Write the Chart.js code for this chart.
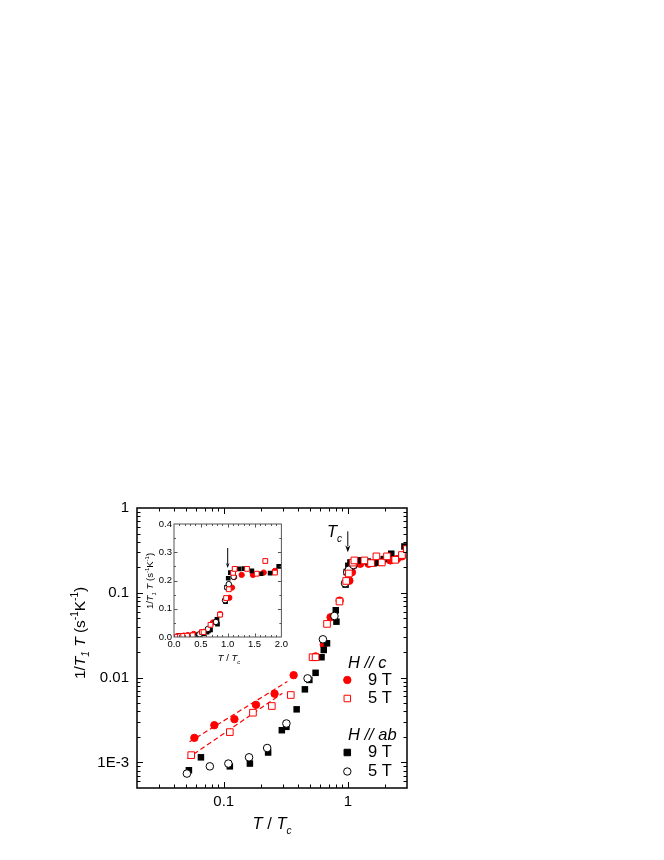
<!DOCTYPE html>
<html>
<head>
<meta charset="utf-8">
<script src="https://cdn.jsdelivr.net/npm/chart.js@4.4.1/dist/chart.umd.min.js"></script>
<style>
  html, body { margin: 0; padding: 0; background: #fff; }
  #wrap { position: relative; width: 664px; height: 860px; }
  #main { position: absolute; left: 0; top: 0; }
  #inset { position: absolute; left: 140px; top: 515px; }
</style>
</head>
<body>
<div id="wrap">
  <canvas id="main" width="664" height="860"></canvas>
  <canvas id="inset" width="150" height="155"></canvas>
</div>
<script>
// --- data (T/Tc, 1/T1T in s^-1 K^-1) ---
// H // c, 9 T (filled red circles)
const c9T_x = [0.058, 0.084, 0.122, 0.182, 0.257, 0.366, 0.55, 0.64, 0.726, 0.86, 1.03, 1.08, 1.12, 1.26, 1.47, 1.67, 1.88, 2.20, 2.49, 2.73];
const c9T_y = [0.00195, 0.00275, 0.00324, 0.00478, 0.00646, 0.0107, 0.0178, 0.0245, 0.0515, 0.081, 0.139, 0.175, 0.212, 0.220, 0.220, 0.228, 0.234, 0.241, 0.25, 0.269];
// H // c, 5 T (open red squares)
const c5T_x = [0.0547, 0.112, 0.172, 0.244, 0.347, 0.52, 0.55, 0.68, 0.857, 0.97, 1.02, 1.10, 1.13, 1.36, 1.54, 1.70, 1.88, 2.07, 2.41, 2.73, 2.99];
const c5T_y = [0.00122, 0.00228, 0.00386, 0.00463, 0.00624, 0.0174, 0.0174, 0.043, 0.079, 0.138, 0.169, 0.227, 0.241, 0.241, 0.224, 0.269, 0.228, 0.269, 0.245, 0.279, 0.328];
// H // ab, 9 T (filled black squares)
const ab9T_x = [0.0524, 0.0655, 0.112, 0.1625, 0.228, 0.294, 0.32, 0.387, 0.451, 0.49, 0.55, 0.614, 0.64, 0.68, 0.80, 0.81, 0.96, 0.98, 1.01, 1.05, 1.21, 1.30, 1.45, 1.62, 1.79, 1.95, 2.24, 2.86];
const ab9T_y = [0.00081, 0.00115, 0.0009, 0.00097, 0.00131, 0.0024, 0.00263, 0.00423, 0.00728, 0.0094, 0.0114, 0.0174, 0.0212, 0.0254, 0.0623, 0.0457, 0.125, 0.176, 0.208, 0.228, 0.241, 0.242, 0.234, 0.224, 0.226, 0.25, 0.289, 0.352];
// H // ab, 5 T (open black circles)
const ab5T_x = [0.0505, 0.0773, 0.109, 0.16, 0.224, 0.32, 0.474, 0.63, 0.78, 0.95, 0.99, 1.02, 1.11];
const ab5T_y = [0.00074, 0.0009, 0.00097, 0.00115, 0.00148, 0.00288, 0.0098, 0.0283, 0.0533, 0.13, 0.175, 0.187, 0.213];
// dashed power-law guides
const fit9T_x = [0.053, 0.326];
const fit9T_y = [0.00175, 0.0090];
const fit5T_x = [0.0508, 0.297];
const fit5T_y = [0.00111, 0.00653];

// tick labels
const xTickVals = [0.1, 1];
const xTickLabels = ['0.1', '1'];
const yTickVals = [0.001, 0.01, 0.1, 1];
const yTickLabels = ['1E-3', '0.01', '0.1', '1'];
const insetXTicks = [0, 0.5, 1, 1.5, 2];
const insetYTicks = [0, 0.1, 0.2, 0.3, 0.4];

const FONT = "'Liberation Sans', Arial, Helvetica, sans-serif";
const RED = '#ff0000';

function pts(xs, ys, maxX) {
    return xs.map((x, i) => ({ x: x, y: ys[i] })).filter(p => maxX === undefined || p.x <= maxX);
}

function fontFor(p, size) {
    const s = (p.sub || p.sup) ? Math.round(size * 0.62) : size;
    return (p.it ? 'italic ' : '') + s + 'px ' + FONT;
}

// text made of pieces (italic / sub / sup), y is the baseline
function drawRich(ctx, parts, x, y, size, align, rot) {
    ctx.save();
    ctx.translate(x, y);
    if (rot) ctx.rotate(rot);
    ctx.fillStyle = '#000';
    ctx.textBaseline = 'alphabetic';
    ctx.textAlign = 'left';
    let total = 0;
    parts.forEach(p => { ctx.font = fontFor(p, size); total += ctx.measureText(p.t).width; });
    let cx = align === 'center' ? -total / 2 : (align === 'right' ? -total : 0);
    parts.forEach(p => {
        ctx.font = fontFor(p, size);
        const dy = p.sub ? size * 0.28 : (p.sup ? -size * 0.42 : 0);
        ctx.fillText(p.t, cx, dy);
        cx += ctx.measureText(p.t).width;
    });
    ctx.restore();
}

function marker(ctx, style, x, y, r, fill, stroke) {
    ctx.save();
    ctx.fillStyle = fill;
    ctx.strokeStyle = stroke;
    ctx.lineWidth = 1;
    ctx.beginPath();
    if (style === 'circle') {
        ctx.arc(x, y, r, 0, Math.PI * 2);
    } else {
        const s = r * Math.SQRT1_2;
        ctx.rect(x - s, y - s, 2 * s, 2 * s);
    }
    ctx.fill();
    ctx.stroke();
    ctx.restore();
}

function arrowDown(ctx, x, y0, y1, headLen, headW) {
    ctx.save();
    ctx.strokeStyle = '#000';
    ctx.fillStyle = '#000';
    ctx.lineWidth = 1;
    ctx.beginPath();
    ctx.moveTo(x, y0);
    ctx.lineTo(x, y1 - headLen + 1);
    ctx.stroke();
    ctx.beginPath();
    ctx.moveTo(x, y1);
    ctx.lineTo(x - headW, y1 - headLen);
    ctx.lineTo(x, y1 - headLen * 0.7);
    ctx.lineTo(x + headW, y1 - headLen);
    ctx.closePath();
    ctx.fill();
    ctx.restore();
}

// inward tick marks on all four sides plus the box
function ticksAndFrame(chart, o) {
    const { ctx, chartArea: a, scales: { x, y } } = chart;
    ctx.save();
    ctx.strokeStyle = o.color;
    ctx.lineWidth = 1;
    ctx.beginPath();
    const xt = (v, len) => {
        const px = Math.round(x.getPixelForValue(v)) + 0.5;
        ctx.moveTo(px, a.bottom); ctx.lineTo(px, a.bottom - len);
        ctx.moveTo(px, a.top); ctx.lineTo(px, a.top + len);
    };
    const yt = (v, len) => {
        const py = Math.round(y.getPixelForValue(v)) + 0.5;
        ctx.moveTo(a.left, py); ctx.lineTo(a.left + len, py);
        ctx.moveTo(a.right, py); ctx.lineTo(a.right - len, py);
    };
    o.xMaj.forEach(v => xt(v, o.major));
    o.xMin.forEach(v => xt(v, o.minor));
    o.yMaj.forEach(v => yt(v, o.major));
    o.yMin.forEach(v => yt(v, o.minor));
    ctx.stroke();
    ctx.lineWidth = o.frame;
    ctx.strokeRect(a.left, a.top, a.right - a.left, a.bottom - a.top);
    ctx.restore();
}

// minor tick positions for the log axes
const logMinor = (decades) => {
    const out = [];
    decades.forEach(d => { for (let k = 2; k <= 9; k++) out.push(k * Math.pow(10, d)); });
    return out;
};
const mainXMinor = logMinor([-2, -1, 0]).filter(v => v > 0.02 && v < 3);
const mainYMinor = logMinor([-4, -3, -2, -1]).filter(v => v > 0.0005 && v < 1);

const titleY = [
    { t: '1/' }, { t: 'T', it: 1 }, { t: '1', it: 1, sub: 1 }, { t: ' ' }, { t: 'T', it: 1 },
    { t: ' (s' }, { t: '-1', sup: 1 }, { t: 'K' }, { t: '-1', sup: 1 }, { t: ')' }
];
const titleX = [{ t: 'T', it: 1 }, { t: ' / ' }, { t: 'T', it: 1 }, { t: 'c', it: 1, sub: 1 }];

const mainDecor = {
    id: 'mainDecor',
    afterDraw(chart) {
        const ctx = chart.ctx;
        const { x, y } = chart.scales;
        ticksAndFrame(chart, {
            xMaj: [0.1, 1], xMin: mainXMinor,
            yMaj: [0.001, 0.01, 0.1], yMin: mainYMinor,
            major: 6, minor: 3.5, frame: 1.5, color: '#000'
        });
        // axis titles
        drawRich(ctx, titleX, 272, 829, 16.5, 'center');
        drawRich(ctx, titleY, 85, 633, 15.5, 'center', -Math.PI / 2);

        // Tc arrow
        const ax = x.getPixelForValue(1);
        drawRich(ctx, [{ t: 'T', it: 1 }, { t: 'c', it: 1, sub: 1 }], 327, 537, 16.5, 'left');
        arrowDown(ctx, ax, y.getPixelForValue(0.53), y.getPixelForValue(0.30), 7, 2.6);

        // legend
        ctx.save();
        ctx.fillStyle = '#000';
        ctx.textBaseline = 'middle';
        ctx.font = 'italic 16.5px ' + FONT;
        ctx.fillText('H // c', 348, 663);
        ctx.fillText('H // ab', 348, 735);
        ctx.font = '16.5px ' + FONT;
        ctx.fillText('9 T', 368, 680);
        ctx.fillText('5 T', 368, 698.5);
        ctx.fillText('9 T', 368, 752.5);
        ctx.fillText('5 T', 368, 771.5);
        ctx.restore();
        marker(ctx, 'circle', 347.3, 680, 3.7, RED, RED);
        marker(ctx, 'rect', 347.3, 698.5, 4.6, '#fff', RED);
        marker(ctx, 'rect', 347.3, 752.5, 4.6, '#000', '#000');
        marker(ctx, 'circle', 347.3, 771.5, 3.7, '#fff', '#000');
    }
};

const insetDecor = {
    id: 'insetDecor',
    afterDraw(chart) {
        const ctx = chart.ctx;
        const { x, y } = chart.scales;
        const xMin = [], yMin = [];
        for (let k = 1; k < 20; k++) if (k % 5) xMin.push(k / 10);
        for (let k = 1; k < 8; k++) if (k % 2) yMin.push(k / 20);
        ticksAndFrame(chart, {
            xMaj: [0.5, 1, 1.5], xMin: xMin,
            yMaj: [0.1, 0.2, 0.3], yMin: yMin,
            major: 3.5, minor: 2, frame: 1, color: '#555'
        });
        drawRich(ctx, titleX, 89, 146, 9.5, 'center');
        drawRich(ctx, titleY, 13, 66, 9.5, 'center', -Math.PI / 2);
        arrowDown(ctx, x.getPixelForValue(1), y.getPixelForValue(0.315), y.getPixelForValue(0.244), 5, 1.8);
    }
};

// dataset index 0 ends up on top
function seriesSets(maxX, big) {
    const s = big ? 1 : 0.72;
    return [
        { data: pts(c5T_x, c5T_y, maxX), pointStyle: 'rect', pointRadius: 4.7 * s,
          backgroundColor: '#fff', borderColor: RED, borderWidth: 1 },
        { data: pts(ab5T_x, ab5T_y, maxX), pointStyle: 'circle', pointRadius: 3.8 * s,
          backgroundColor: '#fff', borderColor: '#000', borderWidth: 1 },
        { data: pts(ab9T_x, ab9T_y, maxX), pointStyle: 'rect', pointRadius: 4.6 * s,
          backgroundColor: '#000', borderColor: '#000', borderWidth: 0 },
        { data: pts(c9T_x, c9T_y, maxX), pointStyle: 'circle', pointRadius: 3.7 * s,
          backgroundColor: RED, borderColor: RED, borderWidth: 1 }
    ];
}

const mainSets = seriesSets(undefined, true).concat([
    { type: 'line', data: pts(fit9T_x, fit9T_y), borderColor: RED, borderWidth: 1.2, borderDash: [5, 3],
      pointRadius: 0, fill: false, showLine: true },
    { type: 'line', data: pts(fit5T_x, fit5T_y), borderColor: RED, borderWidth: 1.2, borderDash: [5, 3],
      pointRadius: 0, fill: false, showLine: true }
]);

new Chart(document.getElementById('main').getContext('2d'), {
    type: 'scatter',
    data: { datasets: mainSets },
    options: {
        responsive: false,
        animation: false,
        events: [],
        layout: { padding: { left: 0, top: 508, right: 257, bottom: 0 } },
        plugins: { legend: { display: false }, tooltip: { enabled: false } },
        scales: {
            x: {
                type: 'logarithmic', min: 0.02, max: 3,
                grid: { display: false, drawTicks: false }, border: { display: false },
                ticks: { color: '#000', font: { family: FONT, size: 15 }, padding: 5, maxRotation: 0,
                         callback: v => xTickLabels[xTickVals.indexOf(v)] },
                afterBuildTicks: s => { s.ticks = xTickVals.map(v => ({ value: v })); },
                afterFit: s => { s.height = 72; }
            },
            y: {
                type: 'logarithmic', min: 0.0005, max: 1,
                grid: { display: false, drawTicks: false }, border: { display: false },
                ticks: { color: '#000', font: { family: FONT, size: 15 }, padding: 8,
                         callback: v => yTickLabels[yTickVals.indexOf(v)] },
                afterBuildTicks: s => { s.ticks = yTickVals.map(v => ({ value: v })); },
                afterFit: s => { s.width = 137; }
            }
        }
    },
    plugins: [mainDecor]
});

new Chart(document.getElementById('inset').getContext('2d'), {
    type: 'scatter',
    data: { datasets: seriesSets(2, false) },
    options: {
        responsive: false,
        animation: false,
        events: [],
        layout: { padding: { left: 0, top: 9, right: 7, bottom: 0 } },
        plugins: { legend: { display: false }, tooltip: { enabled: false } },
        scales: {
            x: {
                type: 'linear', min: 0, max: 2,
                grid: { display: false, drawTicks: false }, border: { display: false },
                ticks: { color: '#000', font: { family: FONT, size: 9.5 }, padding: 2, maxRotation: 0,
                         callback: v => v.toFixed(1) },
                afterBuildTicks: s => { s.ticks = insetXTicks.map(v => ({ value: v })); },
                afterFit: s => { s.height = 33; }
            },
            y: {
                type: 'linear', min: 0, max: 0.4,
                grid: { display: false, drawTicks: false }, border: { display: false },
                ticks: { color: '#000', font: { family: FONT, size: 9.5 }, padding: 2,
                         callback: v => v.toFixed(1) },
                afterBuildTicks: s => { s.ticks = insetYTicks.map(v => ({ value: v })); },
                afterFit: s => { s.width = 34; }
            }
        }
    },
    plugins: [insetDecor]
});
</script>
</body>
</html>
